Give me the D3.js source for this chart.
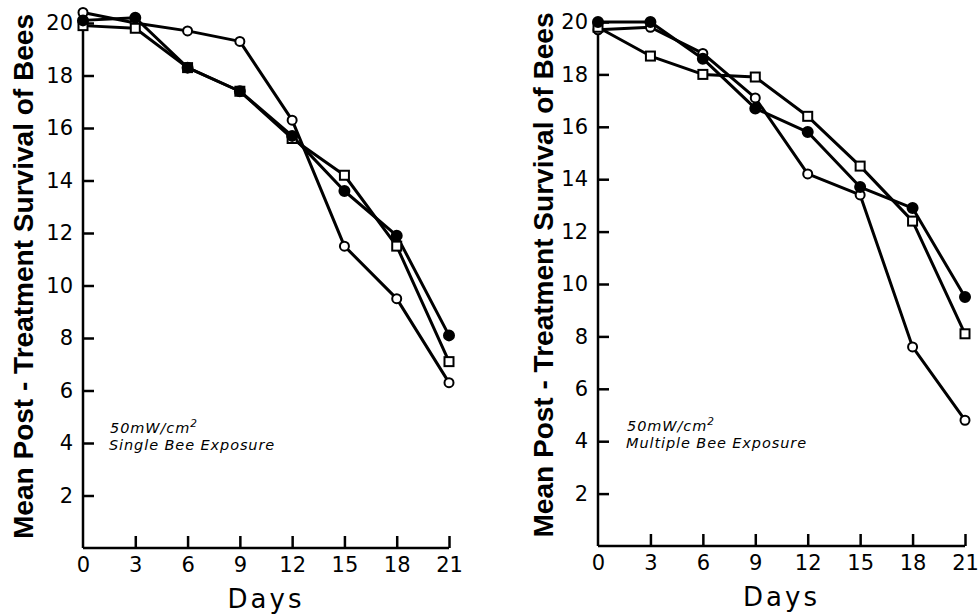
<!DOCTYPE html>
<html>
<head>
<meta charset="utf-8">
<script src="https://cdn.jsdelivr.net/npm/d3@7"></script>
<style>
  body { margin: 0; background: #fff; }
  svg { display: block; }
  .tick text { font-family: "DejaVu Sans", sans-serif; font-size: 21px; fill: #000; }
</style>
</head>
<body>
<div id="chart"></div>
<script>
// days sampled
const days = [0, 3, 6, 9, 12, 15, 18, 21];
const xTicks = [0, 3, 6, 9, 12, 15, 18, 21];
const yTicks = [2, 4, 6, 8, 10, 12, 14, 16, 18, 20];

// single bee exposure (left panel)
const singleFilled = [20.1, 20.2, 18.3, 17.4, 15.7, 13.6, 11.9, 8.1];
const singleSquare = [19.9, 19.8, 18.3, 17.4, 15.6, 14.2, 11.5, 7.1];
const singleOpen   = [20.4, 20.0, 19.7, 19.3, 16.3, 11.5, 9.5, 6.3];

// multiple bee exposure (right panel)
const multiFilled = [20.0, 20.0, 18.6, 16.7, 15.8, 13.7, 12.9, 9.5];
const multiSquare = [19.8, 18.7, 18.0, 17.9, 16.4, 14.5, 12.4, 8.1];
const multiOpen   = [19.7, 19.8, 18.8, 17.1, 14.2, 13.4, 7.6, 4.8];

const svg = d3.select('#chart').append('svg')
    .attr('width', 980)
    .attr('height', 616);

function drawPanel(cfg) {
    const x = d3.scaleLinear().domain([0, 21]).range([cfg.left, cfg.right]);
    const y = d3.scaleLinear().domain([0, 20]).range([cfg.bottom, cfg.top]);
    const g = svg.append('g');

    // y axis, ticks pointing inward
    const yAx = g.append('g')
        .attr('transform', `translate(${cfg.left},0)`)
        .call(d3.axisLeft(y).tickValues(yTicks).tickSizeInner(-11).tickSizeOuter(0).tickPadding(10));
    yAx.select('.domain').remove();
    yAx.selectAll('.tick line').attr('stroke', '#000').attr('stroke-width', 2.5);

    // x axis, ticks pointing up
    const xAx = g.append('g')
        .attr('transform', `translate(0,${cfg.bottom})`)
        .call(d3.axisBottom(x).tickValues(xTicks).tickSizeInner(-12).tickSizeOuter(0).tickPadding(9));
    xAx.select('.domain').remove();
    xAx.selectAll('.tick line').attr('stroke', '#000').attr('stroke-width', 2.5)
        .filter(d => d === 0).remove();

    // axis lines
    g.append('line')
        .attr('x1', x(0)).attr('x2', x(0))
        .attr('y1', y(0)).attr('y2', y(20) - 4)
        .attr('stroke', '#000').attr('stroke-width', 2.5);
    g.append('line')
        .attr('x1', x(0)).attr('x2', x(21))
        .attr('y1', y(0)).attr('y2', y(0))
        .attr('stroke', '#000').attr('stroke-width', 2.5);

    const line = d3.line().x((d, i) => x(days[i])).y(d => y(d));

    cfg.series.forEach(s => {
        g.append('path')
            .datum(s.values)
            .attr('d', line)
            .attr('fill', 'none')
            .attr('stroke', '#000')
            .attr('stroke-width', 3)
            .attr('stroke-linejoin', 'round');
    });

    cfg.series.forEach(s => {
        const pts = g.append('g').selectAll('g')
            .data(s.values)
            .enter();
        if (s.shape === 'square') {
            pts.append('rect')
                .attr('x', (d, i) => x(days[i]) - 4.5)
                .attr('y', d => y(d) - 4.5)
                .attr('width', 9).attr('height', 9)
                .attr('fill', '#fff').attr('stroke', '#000').attr('stroke-width', 2);
        } else {
            pts.append('circle')
                .attr('cx', (d, i) => x(days[i]))
                .attr('cy', d => y(d))
                .attr('r', s.shape === 'filled' ? 5 : 4.5)
                .attr('fill', s.shape === 'filled' ? '#000' : '#fff')
                .attr('stroke', '#000').attr('stroke-width', 2);
        }
    });

    // axis titles
    g.append('text')
        .attr('transform', `translate(${cfg.titleX},${(cfg.top + cfg.bottom) / 2 - 9}) rotate(-90)`)
        .attr('text-anchor', 'middle')
        .attr('font-family', '"Liberation Sans", Arial, sans-serif')
        .attr('font-weight', 'bold')
        .attr('font-size', 27)
        .attr('textLength', 525)
        .attr('lengthAdjust', 'spacingAndGlyphs')
        .text('Mean Post - Treatment Survival of Bees');

    g.append('text')
        .attr('x', x(10.5))
        .attr('y', cfg.bottom + 60)
        .attr('text-anchor', 'middle')
        .attr('font-family', '"DejaVu Sans", sans-serif')
        .attr('font-size', 26)
        .attr('letter-spacing', 3)
        .text('Days');

    // condition note
    const note = g.append('text')
        .attr('font-family', '"DejaVu Sans", sans-serif')
        .attr('font-style', 'italic')
        .attr('font-size', 14.5)
        .attr('letter-spacing', 0.9);
    note.append('tspan')
        .attr('x', cfg.noteX).attr('y', y(cfg.noteY))
        .text('50mW/cm');
    note.append('tspan')
        .attr('dy', -6).attr('font-size', 10.5)
        .text('2');
    note.append('tspan')
        .attr('x', cfg.noteX - 1).attr('y', y(cfg.noteY) + 17)
        .text(cfg.note);
}

drawPanel({
    left: 83, right: 449, top: 23, bottom: 548, titleX: 33,
    noteX: 110, noteY: 4.4, note: 'Single Bee Exposure',
    series: [
        { shape: 'open', values: singleOpen },
        { shape: 'square', values: singleSquare },
        { shape: 'filled', values: singleFilled }
    ]
});

drawPanel({
    left: 598, right: 965, top: 22, bottom: 546, titleX: 553,
    noteX: 627, noteY: 4.4, note: 'Multiple Bee Exposure',
    series: [
        { shape: 'open', values: multiOpen },
        { shape: 'square', values: multiSquare },
        { shape: 'filled', values: multiFilled }
    ]
});
</script>
</body>
</html>
